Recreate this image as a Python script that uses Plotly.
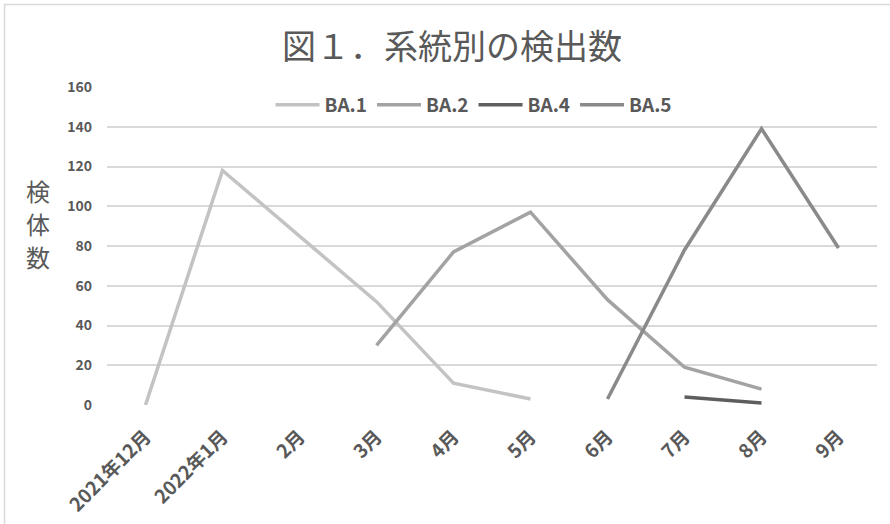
import plotly.graph_objects as go

# Monthly detections per lineage
months = ["2021年12月", "2022年1月", "2月", "3月", "4月", "5月", "6月", "7月", "8月", "9月"]
ba1 = [0, 118, 85, 52, 11, 3, None, None, None, None]
ba2 = [None, None, None, 30, 77, 97, 53, 19, 8, None]
ba4 = [None, None, None, None, None, None, None, 4, 1, None]
ba5 = [None, None, None, None, None, None, 3, 78, 139, 79]

series = [
    ("BA.1", ba1, "#c3c3c3"),
    ("BA.2", ba2, "#a3a3a3"),
    ("BA.4", ba4, "#5e5e5e"),
    ("BA.5", ba5, "#8a8a8a"),
]

FONT = "Noto Sans CJK JP"
TEXT = "#595959"

fig = go.Figure()
for name, vals, color in series:
    fig.add_trace(go.Scatter(
        x=months, y=vals, name=name, mode="lines",
        line=dict(color=color, width=3.5),
        connectgaps=False,
    ))

W, H = 890, 524
L, R, T, B = 107, 13, 87, 119
pw, ph = W - L - R, H - T - B

def px_x(p):
    return (p - L) / pw

def px_y(p):
    return (H - B - p) / ph

# vertical axis title, one character per line
ylabel_chars = ["検", "体", "数"]
ylabel_rows = [190, 223, 256]
ylabel_notes = [
    dict(text=ch, xref="paper", yref="paper",
         x=px_x(38), y=px_y(row), xanchor="center", yanchor="middle",
         showarrow=False, font=dict(family=FONT, size=24, color=TEXT))
    for ch, row in zip(ylabel_chars, ylabel_rows)
]

fig.update_layout(
    width=W, height=H,
    margin=dict(l=L, r=R, t=T, b=B, autoexpand=False),
    paper_bgcolor="white", plot_bgcolor="white",
    font=dict(family=FONT, color=TEXT),
    title=dict(
        text="図１．系統別の検出数",
        font=dict(family=FONT, size=34, color=TEXT),
        xref="container", x=452 / W, xanchor="center",
        yref="container", y=1 - 47 / H, yanchor="middle",
    ),
    showlegend=True,
    legend=dict(
        orientation="h",
        xref="paper", x=px_x(474), xanchor="center",
        yref="paper", y=px_y(105), yanchor="middle",
        bgcolor="white",
        font=dict(family=FONT, size=19, color=TEXT, weight="bold"),
        itemwidth=44,
    ),
    xaxis=dict(
        type="category",
        range=[-0.5, len(months) - 0.5],
        showgrid=False, zeroline=False, showline=False,
        tickangle=-45, automargin=False,
        tickfont=dict(family=FONT, size=19, color=TEXT, weight="bold"),
        ticks="", ticklabelstandoff=16,
    ),
    yaxis=dict(
        range=[0, 160], dtick=20, automargin=False,
        showgrid=True, gridcolor="#d9d9d9", gridwidth=1.5,
        zeroline=False, showline=False,
        tickfont=dict(family=FONT, size=14, color=TEXT, weight="bold"),
        ticks="", ticklabelstandoff=14,
    ),
    shapes=[
        # white panel behind the legend, hiding the top gridlines
        dict(type="rect", xref="paper", yref="paper",
             x0=px_x(255), x1=px_x(689), y0=px_y(130), y1=px_y(84),
             fillcolor="white", line=dict(width=0), layer="between"),
        # chart frame
        dict(type="rect", xref="paper", yref="paper",
             x0=px_x(4.5), x1=px_x(W + 20), y0=px_y(H + 20), y1=px_y(4.5),
             fillcolor="rgba(0,0,0,0)", line=dict(color="#d9d9d9", width=1.5),
             layer="above"),
    ],
    annotations=ylabel_notes,
)

fig.write_html("out.html")
